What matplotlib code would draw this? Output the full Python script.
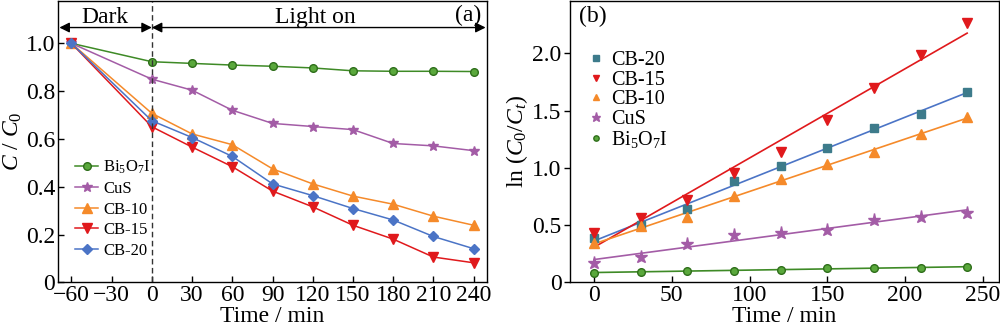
import numpy as np
import matplotlib
matplotlib.use('Agg')
import matplotlib.pyplot as plt

plt.rcParams['font.family'] = ['Liberation Serif', 'DejaVu Serif']
plt.rcParams['mathtext.fontset'] = 'custom'
plt.rcParams['mathtext.rm'] = 'Liberation Serif'
plt.rcParams['mathtext.it'] = 'Liberation Serif:italic'

# panel (a): C/C0 vs time
time_a = [-60, 0, 30, 60, 90, 120, 150, 180, 210, 240]
bi_a = [1.0, 0.923, 0.916, 0.909, 0.904, 0.897, 0.885, 0.883, 0.883, 0.882]
cus_a = [1.0, 0.850, 0.804, 0.720, 0.665, 0.652, 0.639, 0.581, 0.571, 0.551]
cb10_a = [1.0, 0.707, 0.621, 0.576, 0.475, 0.412, 0.361, 0.327, 0.277, 0.239]
cb15_a = [1.0, 0.651, 0.566, 0.484, 0.382, 0.316, 0.239, 0.181, 0.106, 0.082]
cb20_a = [1.0, 0.676, 0.606, 0.527, 0.412, 0.363, 0.309, 0.261, 0.192, 0.141]
ticks_a = [-60, -30, 0, 30, 60, 90, 120, 150, 180, 210, 240]
ticklabels_a = ['\u221260', '\u221230', '0', '30', '60', '90', '120', '150', '180', '210', '240']

# panel (b): ln(C0/Ct) vs time
time_b = [0, 30, 60, 90, 120, 150, 180, 210, 240]
cb20_b = [0.386, 0.503, 0.640, 0.886, 1.017, 1.174, 1.351, 1.469, 1.663]
cb15_b = [0.429, 0.566, 0.723, 0.951, 1.137, 1.420, 1.700, 1.986, 2.263]
cb10_b = [0.343, 0.491, 0.569, 0.754, 0.900, 1.031, 1.140, 1.297, 1.443]
cus_b = [0.171, 0.223, 0.331, 0.414, 0.429, 0.457, 0.549, 0.569, 0.606]
bi_b = [0.086, 0.091, 0.097, 0.103, 0.111, 0.126, 0.129, 0.129, 0.131]

green = '#3e8a26'
purple = '#a35ca6'
orange = '#f58a2a'
red = '#e0191c'
blue = '#4b74c6'
teal = '#3d7b8b'

fs = 17

fig = plt.figure(figsize=(10, 3.33), dpi=100)
ax1 = fig.add_axes([0.058, 0.152, 0.429, 0.845])
ax2 = fig.add_axes([0.570, 0.152, 0.429, 0.845])

# ---- (a)
ax1.plot(time_a, bi_a, '-o', color=green, mfc='#5aa83c', mec='#2e6e1a', ms=5.5, lw=1.1, label='Bi$_5$O$_7$I')
ax1.plot(time_a, cus_a, '-*', color=purple, ms=7.5, lw=1.1, label='CuS')
ax1.plot(time_a, cb10_a, '-^', color=orange, ms=6.5, lw=1.1, label='CB-10')
ax1.plot(time_a, cb15_a, '-v', color=red, ms=6.5, lw=1.1, label='CB-15')
ax1.plot(time_a, cb20_a, '-D', color=blue, ms=5.5, lw=1.1, label='CB-20')
ax1.axvline(0, color='#333333', ls='--', lw=1.0, dashes=(4, 2.5))
ax1.set_xlim(-70, 250)
ax1.set_ylim(0, 1.177)
ax1.set_xticks(ticks_a)
ax1.set_xticklabels(ticklabels_a)
ax1.set_yticks([0, 0.2, 0.4, 0.6, 0.8, 1.0])
ax1.set_yticklabels(['0', '0.2', '0.4', '0.6', '0.8', '1.0'])
ax1.tick_params(direction='in', labelsize=fs, length=4, width=1, pad=2)
ax1.set_xlabel('Time / min', fontsize=fs, labelpad=0)
ax1.set_ylabel('$\\mathit{C}$ / $\\mathit{C}_0$', fontsize=fs, labelpad=1)
ax1.annotate('', xy=(-70, 1.066), xytext=(0, 1.066),
             arrowprops=dict(arrowstyle='<|-|>', color='black', lw=1.0, shrinkA=0, shrinkB=1,
                             mutation_scale=15))
ax1.annotate('', xy=(0, 1.066), xytext=(250, 1.066),
             arrowprops=dict(arrowstyle='<|-|>', color='black', lw=1.0, shrinkA=1, shrinkB=0,
                             mutation_scale=15))
ax1.text(-35, 1.11, 'Dark', ha='center', va='center', fontsize=fs)
ax1.text(122, 1.11, 'Light on', ha='center', va='center', fontsize=fs)
ax1.text(246, 1.117, '(a)', ha='right', va='center', fontsize=fs)
ax1.legend(loc='lower left', bbox_to_anchor=(0.025, 0.06), frameon=False, fontsize=12,
           handlelength=1.35, handletextpad=0.3, labelspacing=0.28, borderaxespad=0)

# ---- (b)
series_b = [
    (cb20_b, 's', teal, blue, 'CB-20', 5.5),
    (cb15_b, 'v', red, red, 'CB-15', 7),
    (cb10_b, '^', orange, orange, 'CB-10', 7),
    (cus_b, '*', purple, purple, 'CuS', 9.5),
    (bi_b, 'o', green, green, 'Bi$_5$O$_7$I', 5.5),
]
tb = np.array(time_b)
for vals, mk, mcol, lcol, lab, m in series_b:
    # linear fit of the kinetics data
    k, b = np.polyfit(tb, vals, 1)
    ax2.plot(tb, k * tb + b, '-', color=lcol, lw=1.2, zorder=2)
    if mk == 'o':
        ax2.plot(tb, vals, mk, ls='none', mfc='#5aa83c', mec='#2e6e1a', ms=m, label=lab, zorder=3)
    else:
        ax2.plot(tb, vals, mk, ls='none', color=mcol, ms=m, label=lab, zorder=3)
ax2.set_xlim(-15.5, 260.5)
ax2.set_ylim(0, 2.457)
ax2.set_xticks([0, 50, 100, 150, 200, 250])
ax2.set_yticks([0, 0.5, 1.0, 1.5, 2.0])
ax2.set_yticklabels(['0', '0.5', '1.0', '1.5', '2.0'])
ax2.tick_params(axis='x', direction='in', labelsize=fs, length=4, width=1, pad=2)
ax2.tick_params(axis='y', direction='out', labelsize=fs, length=4, width=1, pad=2)
ax2.set_xlabel('Time / min', fontsize=fs, labelpad=0)
ax2.set_ylabel('ln ($\\mathit{C}_0$/$\\mathit{C}_t$)', fontsize=fs, labelpad=2)
ax2.text(-10, 2.32, '(b)', ha='left', va='center', fontsize=fs)
ax2.legend(loc='upper left', bbox_to_anchor=(0.025, 0.85), frameon=False, fontsize=14.5,
           handlelength=0.7, handletextpad=0.4, labelspacing=0.02, borderaxespad=0,
           markerscale=0.7)

for ax in (ax1, ax2):
    for s in ax.spines.values():
        s.set_linewidth(1.0)

fig.savefig('out.png', dpi=100)
